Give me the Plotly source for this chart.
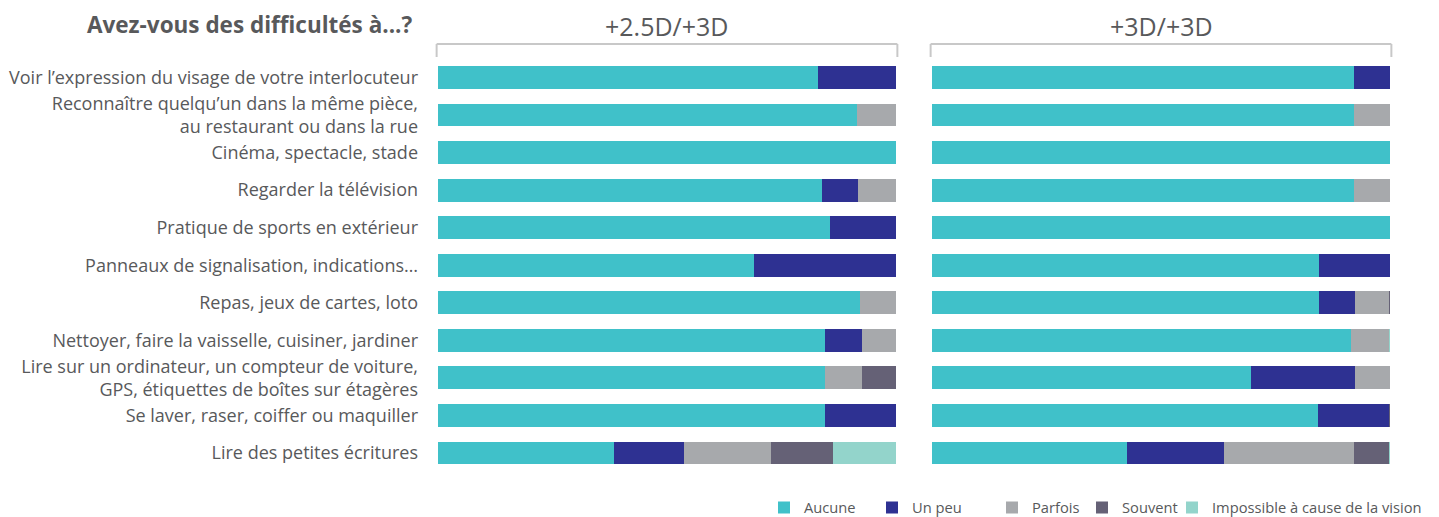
import plotly.graph_objects as go

categories = [
    "Voir l’expression du visage de votre interlocuteur",
    "Reconnaître quelqu’un dans la même pièce,<br>au restaurant ou dans la rue",
    "Cinéma, spectacle, stade",
    "Regarder la télévision",
    "Pratique de sports en extérieur",
    "Panneaux de signalisation, indications…",
    "Repas, jeux de cartes, loto",
    "Nettoyer, faire la vaisselle, cuisiner, jardiner",
    "Lire sur un ordinateur, un compteur de voiture,<br>GPS, étiquettes de boîtes sur étagères",
    "Se laver, raser, coiffer ou maquiller",
    "Lire des petites écritures",
]

series_names = ["Aucune", "Un peu", "Parfois", "Souvent", "Impossible à cause de la vision"]
series_colors = ["#40c1c9", "#2e3192", "#a7a9ac", "#656176", "#93d4cb"]

# Panel 1: +2.5D/+3D
left_aucune =     [83.0, 91.5, 100.0, 83.8, 85.6, 69.0, 92.1, 84.5, 84.5, 84.5, 38.4]
left_unpeu =      [17.0, 0.0, 0.0, 7.9, 14.4, 31.0, 0.0, 8.1, 0.0, 15.5, 15.3]
left_parfois =    [0.0, 8.5, 0.0, 8.3, 0.0, 0.0, 7.9, 7.4, 8.1, 0.0, 19.0]
left_souvent =    [0.0, 0.0, 0.0, 0.0, 0.0, 0.0, 0.0, 0.0, 7.4, 0.0, 13.5]
left_impossible = [0.0, 0.0, 0.0, 0.0, 0.0, 0.0, 0.0, 0.0, 0.0, 0.0, 13.8]

# Panel 2: +3D/+3D
right_aucune =     [92.1, 92.1, 100.0, 92.1, 100.0, 84.5, 84.5, 91.5, 69.7, 84.3, 42.6]
right_unpeu =      [7.9, 0.0, 0.0, 0.0, 0.0, 15.5, 7.9, 0.0, 22.7, 15.5, 21.2]
right_parfois =    [0.0, 7.9, 0.0, 7.9, 0.0, 0.0, 7.4, 8.3, 7.6, 0.0, 28.4]
right_souvent =    [0.0, 0.0, 0.0, 0.0, 0.0, 0.0, 0.2, 0.0, 0.0, 0.2, 7.6]
right_impossible = [0.0, 0.0, 0.0, 0.0, 0.0, 0.0, 0.0, 0.2, 0.0, 0.0, 0.2]

panel_titles = ["+2.5D/+3D", "+3D/+3D"]
main_title = "Avez-vous des difficultés à...?"

left_series = [left_aucune, left_unpeu, left_parfois, left_souvent, left_impossible]
right_series = [right_aucune, right_unpeu, right_parfois, right_souvent, right_impossible]

# the page is drawn with an 8px body margin: target positions are shifted by it
OFF = 8
W, H = 1439, 517
FONT = "Open Sans"
TXT = "#58595b"

def px_x(p):
    return (p - OFF) / W

def px_y(p):
    return 1 - (p - OFF) / H

legend_ids = ["legend", "legend2", "legend3", "legend4", "legend5"]
legend_marker_centers = [786, 894, 1014, 1104, 1194]

fig = go.Figure()
for name, color, vals, lid in zip(series_names, series_colors, left_series, legend_ids):
    fig.add_trace(go.Bar(
        y=categories, x=vals, orientation="h", name=name,
        marker=dict(color=color, line=dict(width=0)),
        xaxis="x", yaxis="y", legendgroup=name, showlegend=True, legend=lid,
        hoverinfo="x+y+name",
    ))
for name, color, vals in zip(series_names, series_colors, right_series):
    fig.add_trace(go.Bar(
        y=categories, x=vals, orientation="h", name=name,
        marker=dict(color=color, line=dict(width=0)),
        xaxis="x2", yaxis="y", legendgroup=name, showlegend=False,
        hoverinfo="x+y+name",
    ))

x1_dom = [px_x(438), px_x(896)]
x2_dom = [px_x(932), px_x(1390)]
y_dom = [px_y(471.8), px_y(58.7)]

legend_layout = {}
for lid, cx in zip(legend_ids, legend_marker_centers):
    legend_layout[lid] = dict(
        orientation="h", x=px_x(cx - 22), xanchor="left", y=px_y(508), yanchor="middle",
        font=dict(family=FONT, size=14.7, color=TXT), bgcolor="rgba(0,0,0,0)",
        borderwidth=0, itemwidth=30,
    )

fig.update_layout(
    width=W, height=H,
    barmode="stack",
    bargap=0.39,
    plot_bgcolor="white",
    paper_bgcolor="white",
    margin=dict(l=0, r=0, t=0, b=0),
    font=dict(family=FONT, color=TXT, size=18),
    xaxis=dict(domain=x1_dom, range=[0, 100], visible=False, fixedrange=True),
    xaxis2=dict(domain=x2_dom, range=[0, 100], visible=False, fixedrange=True, anchor="y"),
    yaxis=dict(domain=y_dom, type="category", categoryorder="array", categoryarray=categories,
               range=[len(categories) - 0.5, -0.5], showgrid=False, zeroline=False,
               showline=False, ticks="", ticklabelstandoff=19,
               tickfont=dict(family=FONT, size=18, color=TXT), anchor="x"),
    showlegend=True,
    **legend_layout,
)

annotations = [
    dict(text=f"<b>{main_title}</b>", xref="paper", yref="paper", x=px_x(413), y=1,
         xanchor="right", yanchor="top", showarrow=False, borderpad=0,
         font=dict(family=FONT, size=22.5, color=TXT)),
]
for i, t in enumerate(panel_titles):
    xr = "x domain" if i == 0 else "x2 domain"
    annotations.append(dict(text=t, xref=xr, yref="paper", x=0.5, y=1,
                            xanchor="center", yanchor="top", showarrow=False, borderpad=0,
                            font=dict(family=FONT, size=25, color=TXT)))
fig.update_layout(annotations=annotations)

shapes = []
line_style = dict(color="#c8c8c8", width=2)
for xr in ["x domain", "x2 domain"]:
    shapes.append(dict(type="line", xref=xr, yref="paper", x0=-0.003, x1=1.003,
                       y0=px_y(44), y1=px_y(44), line=line_style))
    shapes.append(dict(type="line", xref=xr, yref="paper", x0=-0.003, x1=-0.003,
                       y0=px_y(44), y1=px_y(57), line=line_style))
    shapes.append(dict(type="line", xref=xr, yref="paper", x0=1.003, x1=1.003,
                       y0=px_y(44), y1=px_y(57), line=line_style))
fig.update_layout(shapes=shapes)

fig.write_html("out.html")
